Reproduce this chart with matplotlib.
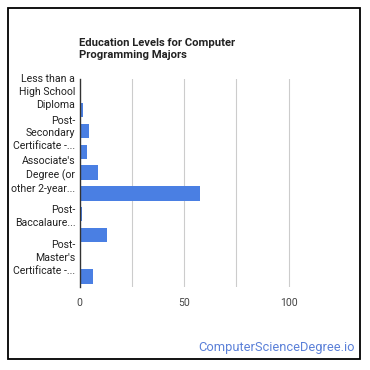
import matplotlib
matplotlib.use("Agg")
import matplotlib.pyplot as plt
from matplotlib.patches import Rectangle

plt.rcParams['font.family'] = ['Roboto', 'DejaVu Sans']

# education levels (only every other label is visible in the original)
categories = [
    "Less than a High School Diploma",
    "High School Diploma",
    "Post-Secondary Certificate",
    "Some College Courses",
    "Associate's Degree (or other 2-year degree)",
    "Bachelor's Degree",
    "Post-Baccalaureate Certificate",
    "Master's Degree",
    "Post-Master's Certificate",
    "Doctoral Degree",
]
shown_labels = [
    "Less than a\nHigh School\nDiploma",
    "",
    "Post-\nSecondary\nCertificate -...",
    "",
    "Associate's\nDegree (or\nother 2-year...",
    "",
    "Post-\nBaccalaure...",
    "",
    "Post-\nMaster's\nCertificate -...",
    "",
]
percents = [0.6, 1.7, 4.7, 3.8, 9.0, 57.7, 1.3, 13.2, 0.6, 6.6]

x_ticks = [0, 50, 100]
grid_lines = [25, 50, 75, 100]

W, H = 370, 370
fig = plt.figure(figsize=(W / 100, H / 100), dpi=100)

# outer frame
fig.patches.append(Rectangle((8 / W, 1 - 359 / H), 352 / W, 351 / H,
                             transform=fig.transFigure, fill=False,
                             edgecolor='black', linewidth=1.3))

ax = fig.add_axes([79.5 / W, 1 - 287 / H, 261.5 / W, 208 / H])

ypos = list(range(len(categories)))
ax.barh(ypos, percents, height=0.7, color='#4a7fe3', zorder=3)

ax.set_ylim(len(categories) - 0.5, -0.5)
ax.set_xlim(0, 125)

for g in grid_lines:
    ax.axvline(g, color='#cccccc', linewidth=0.8, zorder=1)

ax.set_yticks(ypos)
ax.set_yticklabels(shown_labels, fontsize=7.6, color='#222222', linespacing=1.35)
ax.set_xticks(x_ticks)
ax.set_xticklabels([str(t) for t in x_ticks], fontsize=7.6, color='#444444')
ax.tick_params(axis='both', length=0)
ax.tick_params(axis='y', pad=3)
ax.tick_params(axis='x', pad=8)

for side in ['top', 'right', 'bottom']:
    ax.spines[side].set_visible(False)
ax.spines['left'].set_color('#333333')
ax.spines['left'].set_linewidth(1.0)
ax.spines['left'].set_zorder(4)

fig.text(79 / W, 1 - 37.5 / H, "Education Levels for Computer\nProgramming Majors",
         fontsize=8.1, fontweight='bold', color='#222222', ha='left', va='top',
         linespacing=1.35)

fig.text(355 / W, 1 - 348 / H, "ComputerScienceDegree.io", fontsize=9.3,
         color='#5b80d8', ha='right', va='center')

fig.savefig("out.png", dpi=100)
